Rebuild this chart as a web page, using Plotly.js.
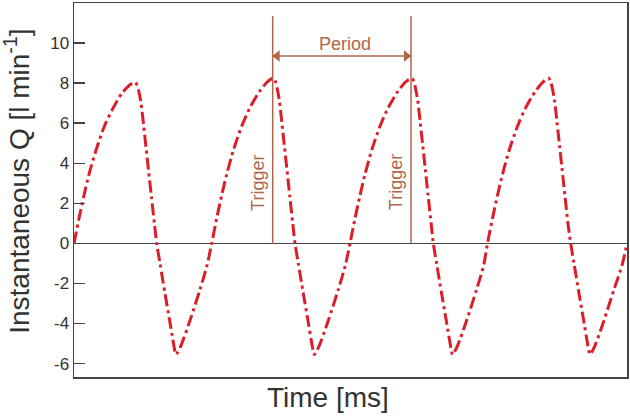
<!DOCTYPE html>
<html>
<head>
<meta charset="utf-8">
<script src="https://cdn.plot.ly/plotly-3.0.1.min.js"></script>
<style>html,body{margin:0;padding:0;background:#fff;}#chart{width:630px;height:418px;}</style>
</head>
<body>
<div id="chart"></div>
<script>
// Time (arbitrary ms units) and instantaneous flow Q [l/min]
const timeC0 = [0,5,10,15,22,30,38,48,56,61,63,65,67,69.5,72,74.5,77.5,80.5,82.7,86,91,96,99,101,102,103.5,107,116,126,133];
const flowC0 = [0,1.25,2.4,3.45,4.65,5.8,6.65,7.5,7.92,8.05,7.9,7.55,7.0,5.95,4.8,3.65,2.3,0.95,0,-1.0,-2.5,-3.95,-4.85,-5.4,-5.55,-5.45,-5.1,-3.85,-2.3,-1.1];
const timeC1 = [137.7,142.7,147.7,152.7,159.7,167.7,175.7,185.7,193.7,199.3,201.3,203.3,205.3,207.8,210.3,212.8,215.8,218.8,221.0,224.3,229.3,234.3,237.3,239.3,240.3,241.8,245.3,254.3,264.3,271.3];
const flowC1 = [0,1.25,2.4,3.45,4.7,5.85,6.75,7.6,8.08,8.25,8.1,7.7,7.15,6.05,4.9,3.75,2.35,0.98,0,-1.0,-2.5,-3.95,-4.85,-5.4,-5.55,-5.45,-5.1,-3.85,-2.3,-1.1];
const timeC2 = [276,281,286,291,298,306,314,324,332,337.7,339.7,341.7,343.7,346.2,348.7,351.2,354.2,357.2,359.3,362.6,367.6,372.6,375.6,377.6,378.6,380.1,383.6,392.6,402.6,409.6];
const flowC2 = [0,1.25,2.4,3.45,4.7,5.85,6.75,7.6,8.08,8.25,8.1,7.7,7.15,6.05,4.9,3.75,2.35,0.98,0,-1.0,-2.5,-3.95,-4.85,-5.4,-5.55,-5.45,-5.1,-3.85,-2.3,-1.1];
const timeC3 = [413.5,418.5,423.5,428.5,435.5,443.5,451.5,461.5,469.5,474.5,476.5,478.5,480.5,483,485.5,488,491,494,496.7,500,505,510,513,515,516,517.5,521,530,540,548,553];
const flowC3 = [0,1.25,2.4,3.45,4.7,5.85,6.75,7.6,8.08,8.25,8.1,7.7,7.15,6.05,4.9,3.75,2.35,0.98,0,-1.0,-2.5,-3.95,-4.85,-5.4,-5.55,-5.45,-5.1,-3.85,-2.3,-1.1,0];

const triggerTimes = [198.7, 337];
const triggerTop = 11.35;
const periodArrowY = 9.35;
const yTicks = [-6,-4,-2,0,2,4,6,8,10];

const timeAll = timeC0.concat(timeC1, timeC2, timeC3);
const flowAll = flowC0.concat(flowC1, flowC2, flowC3);

const brown = '#b0664a';
const red = '#dc1e2a';
const axisCol = '#444';
const fam = 'Liberation Sans, Arial, sans-serif';

const trace = {
  x: timeAll, y: flowAll, type: 'scatter', mode: 'lines',
  line: {color: red, width: 3, dash: '12px,4px,3px,4px', shape: 'spline', smoothing: 0.8},
  hoverinfo: 'skip', showlegend: false
};

// arrowheads of the "Period" double arrow, tips touching the trigger lines
const headInset = 4.5;
const arrowHeads = {
  x: [triggerTimes[0] + headInset, triggerTimes[1] - headInset],
  y: [periodArrowY, periodArrowY],
  type: 'scatter', mode: 'markers', hoverinfo: 'skip', showlegend: false,
  marker: {symbol: ['triangle-left', 'triangle-right'], size: 10, color: brown, line: {width: 0}}
};

const midT = (triggerTimes[0] + triggerTimes[1]) / 2;

const shapes = triggerTimes.map(t => ({
  type: 'line', xref: 'x', yref: 'y', x0: t, x1: t, y0: 0, y1: triggerTop,
  line: {color: brown, width: 1.5}
}));
shapes.push({type: 'line', xref: 'x', yref: 'y', x0: triggerTimes[0], x1: triggerTimes[1], y0: periodArrowY, y1: periodArrowY, line: {color: brown, width: 1.5}});

const annotations = [];
triggerTimes.forEach(t => {
  annotations.push({x: t - 15.5, y: 3.03, xref: 'x', yref: 'y', text: 'Trigger', textangle: -90, showarrow: false,
    xanchor: 'center', yanchor: 'middle', font: {family: fam, size: 18, color: brown}});
});
annotations.push({x: midT + 3, y: 9.95, xref: 'x', yref: 'y', text: 'Period', showarrow: false,
  xanchor: 'center', yanchor: 'middle', font: {family: fam, size: 18, color: brown}});
annotations.push({x: -0.103, y: 0.522, xref: 'paper', yref: 'paper', text: 'Instantaneous Q [l min<sup>-1</sup>]', textangle: -90,
  showarrow: false, xanchor: 'center', yanchor: 'middle', font: {family: fam, size: 28, color: '#333'}});
annotations.push({x: 0.459, y: -0.056, xref: 'paper', yref: 'paper', text: 'Time [ms]', showarrow: false,
  xanchor: 'center', yanchor: 'middle', font: {family: fam, size: 28, color: '#333'}});

const layout = {
  width: 630, height: 418,
  margin: {l: 74, r: 3, t: 3, b: 41, pad: 0},
  paper_bgcolor: '#fff', plot_bgcolor: '#fff',
  font: {family: fam, color: '#333'},
  xaxis: {range: [0, 553], showgrid: false, zeroline: false, showticklabels: false, ticks: '',
    showline: true, mirror: true, linecolor: axisCol, linewidth: 1.5, fixedrange: true},
  yaxis: {range: [-6.67, 12.0], tickvals: yTicks, ticktext: yTicks.map(String), ticks: 'inside', ticklen: 11, tickwidth: 1.5,
    tickcolor: axisCol, showgrid: false, zeroline: true, zerolinecolor: axisCol, zerolinewidth: 1.5,
    showline: true, mirror: true, linecolor: axisCol, linewidth: 1.5, tickfont: {size: 17, color: '#333'}, fixedrange: true},
  shapes: shapes, annotations: annotations, showlegend: false
};

Plotly.newPlot('chart', [trace, arrowHeads], layout, {displayModeBar: false, staticPlot: true});
</script>
</body>
</html>
